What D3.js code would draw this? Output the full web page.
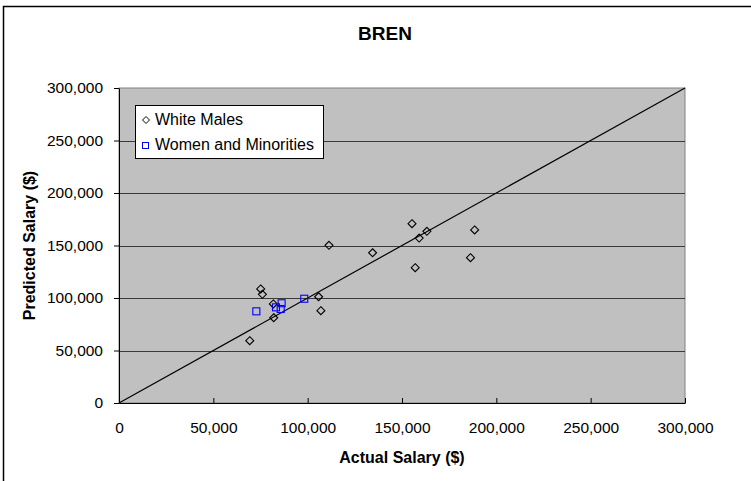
<!DOCTYPE html>
<html>
<head>
<meta charset="utf-8">
<script src="https://cdn.jsdelivr.net/npm/d3@7"></script>
<style>
  body { margin: 0; background: #fff; }
  svg { font-family: "Liberation Sans", Arial, sans-serif; }
</style>
</head>
<body>
<div id="chart"></div>
<script>
// data
const whiteMaleActual = [69300, 75100, 76000, 81800, 82000, 105800, 107000, 111300, 134400, 155300, 159100, 163200, 157000, 188500, 186300];
const whiteMalePredicted = [59300, 108600, 103500, 94300, 81200, 101200, 87900, 150200, 143100, 170800, 157100, 163500, 128900, 164800, 138400];
const minorityActual = [72800, 83200, 86200, 85700, 98200];
const minorityPredicted = [87300, 91100, 95000, 89500, 99300];
const xTicks = [0, 50000, 100000, 150000, 200000, 250000, 300000];
const yTicks = [0, 50000, 100000, 150000, 200000, 250000, 300000];
const seriesNames = ["White Males", "Women and Minorities"];

const width = 751, height = 481;
const plot = { left: 119, right: 685, top: 88, bottom: 403 };

const svg = d3.select("#chart").append("svg")
  .attr("width", width)
  .attr("height", height);

// outer frame (only left and top show in the window)
svg.append("rect")
  .attr("x", 3.5).attr("y", 6.5)
  .attr("width", 800).attr("height", 600)
  .attr("fill", "#fff")
  .attr("stroke", "#000")
  .attr("stroke-width", 1.5);

const x = d3.scaleLinear().domain([0, 300000]).range([plot.left, plot.right]);
const y = d3.scaleLinear().domain([0, 300000]).range([plot.bottom, plot.top]);
const fmt = d3.format(",");

// plot area
svg.append("rect")
  .attr("x", plot.left).attr("y", plot.top)
  .attr("width", plot.right - plot.left)
  .attr("height", plot.bottom - plot.top)
  .attr("fill", "#c0c0c0")
  .attr("stroke", "#808080");

// gridlines
svg.append("g")
  .selectAll("line")
  .data(yTicks.filter(d => d > 0 && d < 300000))
  .enter().append("line")
  .attr("x1", plot.left).attr("x2", plot.right)
  .attr("y1", d => Math.round(y(d)) + 0.5)
  .attr("y2", d => Math.round(y(d)) + 0.5)
  .attr("stroke", "#3a3a3a");

// axes
const xAxis = svg.append("g")
  .attr("transform", `translate(0,${plot.bottom})`)
  .call(d3.axisBottom(x).tickValues(xTicks).tickFormat(fmt).tickSizeInner(-5).tickSizeOuter(0).tickPadding(15));
const yAxis = svg.append("g")
  .attr("transform", `translate(${plot.left},0)`)
  .call(d3.axisLeft(y).tickValues(yTicks).tickFormat(fmt).tickSizeInner(5).tickSizeOuter(0).tickPadding(11));

[xAxis, yAxis].forEach(a => {
  a.select(".domain").attr("stroke", "#000");
  a.selectAll(".tick line").attr("stroke", "#000");
  a.selectAll("text")
    .attr("font-family", "'Liberation Sans', Arial, sans-serif")
    .attr("font-size", 15.5)
    .attr("fill", "#000");
});
xAxis.selectAll(".tick line").attr("y2", -5);
xAxis.selectAll("text").attr("dy", "0.71em").attr("y", 19);

// diagonal reference line
svg.append("line")
  .attr("x1", x(0)).attr("y1", y(0))
  .attr("x2", x(300000)).attr("y2", y(300000))
  .attr("stroke", "#000")
  .attr("stroke-width", 1.2);

// points
const diamond = 4;
const whiteMales = whiteMaleActual.map((d, i) => [d, whiteMalePredicted[i]]);
const minorities = minorityActual.map((d, i) => [d, minorityPredicted[i]]);

svg.append("g")
  .selectAll("path")
  .data(whiteMales)
  .enter().append("path")
  .attr("d", d => {
    const cx = x(d[0]), cy = y(d[1]);
    return `M${cx},${cy - diamond}L${cx + diamond},${cy}L${cx},${cy + diamond}L${cx - diamond},${cy}Z`;
  })
  .attr("fill", "none")
  .attr("stroke", "#000")
  .attr("stroke-width", 1.1);

svg.append("g")
  .selectAll("rect")
  .data(minorities)
  .enter().append("rect")
  .attr("x", d => x(d[0]) - 3.5)
  .attr("y", d => y(d[1]) - 3.5)
  .attr("width", 7)
  .attr("height", 7)
  .attr("fill", "none")
  .attr("stroke", "#0000ff")
  .attr("stroke-width", 1.1);

// legend
const legend = svg.append("g");
legend.append("rect")
  .attr("x", 135.5).attr("y", 105.5)
  .attr("width", 188).attr("height", 53)
  .attr("fill", "#fff")
  .attr("stroke", "#000");
legend.append("path")
  .attr("d", "M146,116.5L149.5,120L146,123.5L142.5,120Z")
  .attr("fill", "none").attr("stroke", "#000");
legend.append("rect")
  .attr("x", 142.5).attr("y", 142.5).attr("width", 6).attr("height", 6)
  .attr("fill", "none").attr("stroke", "#0000ff");
legend.selectAll("text")
  .data(seriesNames)
  .enter().append("text")
  .attr("x", 155)
  .attr("y", (d, i) => 125 + i * 25)
  .attr("font-size", 16)
  .text(d => d);

// titles
svg.append("text")
  .attr("x", 385).attr("y", 40)
  .attr("text-anchor", "middle")
  .attr("font-size", 19)
  .attr("font-weight", "bold")
  .text("BREN");

svg.append("text")
  .attr("x", (plot.left + plot.right) / 2).attr("y", 463)
  .attr("text-anchor", "middle")
  .attr("font-size", 16)
  .attr("font-weight", "bold")
  .text("Actual Salary ($)");

svg.append("text")
  .attr("transform", `translate(35,${(plot.top + plot.bottom) / 2}) rotate(-90)`)
  .attr("text-anchor", "middle")
  .attr("font-size", 16)
  .attr("font-weight", "bold")
  .text("Predicted Salary ($)");
</script>
</body>
</html>
